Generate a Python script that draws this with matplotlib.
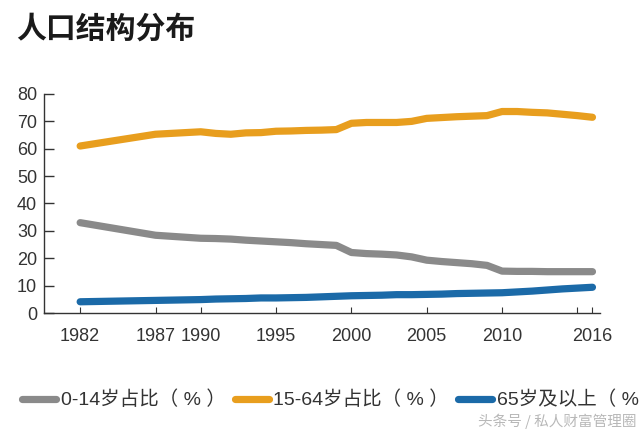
import matplotlib
matplotlib.use("Agg")
import matplotlib.pyplot as plt

plt.rcParams['font.family'] = ['Liberation Sans', 'Noto Sans CJK SC', 'DejaVu Sans']

##### data
years = [1982, 1987, 1990, 1991, 1992, 1993, 1994, 1995, 1996, 1997, 1998, 1999,
         2000, 2001, 2002, 2003, 2004, 2005, 2006, 2007, 2008, 2009,
         2010, 2011, 2012, 2013, 2014, 2015, 2016]
age_0_14 = [33.0, 28.4, 27.3, 27.2, 27.0, 26.6, 26.3, 26.0, 25.7, 25.3, 25.0, 24.7,
            22.1, 21.7, 21.5, 21.2, 20.5, 19.3, 18.8, 18.4, 18.0, 17.4,
            15.3, 15.2, 15.2, 15.1, 15.1, 15.1, 15.1]
age_15_64 = [61.0, 65.3, 66.2, 65.6, 65.3, 65.8, 65.9, 66.4, 66.5, 66.7, 66.8, 67.0,
             69.3, 69.6, 69.6, 69.6, 70.0, 71.1, 71.4, 71.7, 71.9, 72.1,
             73.6, 73.6, 73.3, 73.1, 72.6, 72.1, 71.5]
age_65 = [4.1, 4.6, 4.9, 5.1, 5.2, 5.3, 5.5, 5.5, 5.6, 5.7, 5.9, 6.1,
          6.3, 6.4, 6.5, 6.7, 6.7, 6.8, 6.9, 7.1, 7.2, 7.3,
          7.4, 7.7, 8.0, 8.4, 8.8, 9.1, 9.4]
labels = ['0-14岁占比（ % ）', '15-64岁占比（ % ）', '65岁及以上（ % ）']
colors = ['#8a8a8a', '#e89e1e', '#1b6aa8']

xticks = [1982, 1987, 1990, 1995, 2000, 2005, 2010, 2015, 2016]
xticklabels = ['1982', '1987', '1990', '1995', '2000', '2005', '2010', '', '2016']
yticks = [0, 10, 20, 30, 40, 50, 60, 70, 80]

####figure
fig = plt.figure(figsize=(6.4, 4.29), dpi=100)
ax = fig.add_axes([44/640, 1-313/429, 556/640, 219/429])

lines = []
for vals, lab, c in zip([age_0_14, age_15_64, age_65], labels, colors):
    ln, = ax.plot(years, vals, color=c, lw=5.2, label=lab,
                  solid_capstyle='round', solid_joinstyle='round')
    lines.append(ln)

ax.set_xlim(1979.6, 2016.5)
ax.set_ylim(0, 80)
ax.set_xticks(xticks)
ax.set_xticklabels(xticklabels)
ax.set_yticks(yticks)

for s in ['top', 'right']:
    ax.spines[s].set_visible(False)
for s in ['left', 'bottom']:
    ax.spines[s].set_color('#333333')
    ax.spines[s].set_linewidth(1.0)

ax.tick_params(axis='y', direction='in', length=7, width=1, color='#333333',
               labelsize=13, labelcolor='#333333', pad=5)
ax.tick_params(axis='x', direction='in', length=4, width=0.8, color='#333333',
               labelsize=13, labelcolor='#333333', pad=11)

####title
fig.text(16/640, 1-29/429, '人口结构分布', fontsize=21.5, fontweight='bold',
         family=['Noto Sans CJK SC'], color='#1a1a1a', va='center', ha='left')

####legend
leg = fig.legend(handles=lines, loc='center left', bbox_to_anchor=(22/640, 1-400/429),
                 ncol=3, frameon=False, fontsize=14, handlelength=1.75,
                 handletextpad=0.25, columnspacing=0.45, borderpad=0, borderaxespad=0)
for t in leg.get_texts():
    t.set_color('#333333')

####watermark
fig.text(637/640, 1-421/429, '头条号 / 私人财富管理圈', fontsize=10.5,
         family=['Noto Sans CJK SC'], color='#b8b8b8', ha='right', va='center')

fig.savefig('out.png', dpi=100, facecolor='white')
